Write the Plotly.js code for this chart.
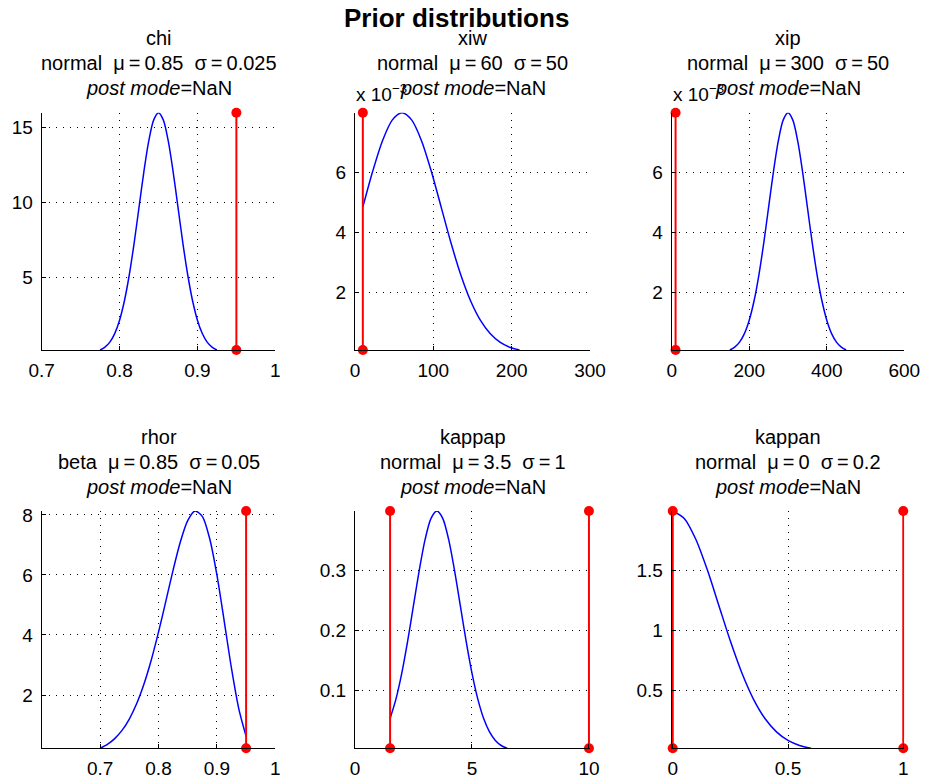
<!DOCTYPE html>
<html><head><meta charset="utf-8">
<script src="https://cdn.plot.ly/plotly-3.0.1.min.js"></script>
<style>html,body{margin:0;padding:0;background:#fff}</style>
</head><body><div id="chart" style="width:927px;height:784px"></div>
<script>
// ---- data ----
const paramNames  = ['chi', 'xiw', 'xip', 'rhor', 'kappap', 'kappan'];
const priorShapes = ['normal', 'normal', 'normal', 'beta', 'normal', 'normal'];
const priorMeans  = ['0.85', '60', '300', '0.85', '3.5', '0'];
const priorStds   = ['0.025', '50', '50', '0.05', '1', '0.2'];
const postModes   = ['NaN', 'NaN', 'NaN', 'NaN', 'NaN', 'NaN'];

const chiX = [0.775, 0.78125, 0.7875, 0.79375, 0.8, 0.80625, 0.8125, 0.81875, 0.825, 0.83125, 0.8375, 0.84375, 0.85,
              0.85625, 0.8625, 0.86875, 0.875, 0.88125, 0.8875, 0.89375, 0.9, 0.90625, 0.9125, 0.91875, 0.925];
const chiDensity = [0.177, 0.364, 0.701, 1.270, 2.160, 3.451, 5.181, 7.306, 9.679, 12.046, 14.083, 15.467, 15.958,
              15.467, 14.083, 12.046, 9.679, 7.306, 5.181, 3.451, 2.160, 1.270, 0.701, 0.364, 0.177];

const xiwX = [10, 22.5, 35, 47.5, 60, 72.5, 85, 97.5, 110, 122.5, 135, 147.5, 160, 172.5, 185, 197.5, 210];
const xiwDensity = [0.004839, 0.006023, 0.007041, 0.007733, 0.007979, 0.007733, 0.007041, 0.006023, 0.004839,
              0.003653, 0.002590, 0.001726, 0.001080, 0.000635, 0.000351, 0.000182, 0.0000886];

const xipX = [150, 162.5, 175, 187.5, 200, 212.5, 225, 237.5, 250, 262.5, 275, 287.5, 300,
              312.5, 325, 337.5, 350, 362.5, 375, 387.5, 400, 412.5, 425, 437.5, 450];
const xipDensity = [0.0000886, 0.000182, 0.000351, 0.000635, 0.001080, 0.001726, 0.002590, 0.003653, 0.004839,
              0.006023, 0.007041, 0.007733, 0.007979, 0.007733, 0.007041, 0.006023, 0.004839, 0.003653,
              0.002590, 0.001726, 0.001080, 0.000635, 0.000351, 0.000182, 0.0000886];

const rhorX = [0.7, 0.7125, 0.725, 0.7375, 0.75, 0.7625, 0.775, 0.7875, 0.8, 0.8125, 0.825, 0.8375, 0.85,
              0.8625, 0.875, 0.8875, 0.9, 0.9125, 0.925, 0.9375, 0.95];
const rhorDensity = [0.224, 0.354, 0.546, 0.820, 1.199, 1.706, 2.357, 3.158, 4.094, 5.121, 6.163, 7.106, 7.810,
              8.132, 7.952, 7.222, 6.002, 4.466, 2.884, 1.539, 0.625];

const kappapX = [1.5, 1.75, 2, 2.25, 2.5, 2.75, 3, 3.25, 3.5, 3.75, 4, 4.25, 4.5, 4.75, 5, 5.25, 5.5, 5.75, 6, 6.25, 6.5];
const kappapDensity = [0.05399, 0.08628, 0.12952, 0.18265, 0.24197, 0.30114, 0.35207, 0.38667, 0.39894, 0.38667,
              0.35207, 0.30114, 0.24197, 0.18265, 0.12952, 0.08628, 0.05399, 0.03174, 0.01753, 0.00909, 0.00443];

const kappanX = [0, 0.05, 0.1, 0.15, 0.2, 0.25, 0.3, 0.35, 0.4, 0.45, 0.5, 0.55, 0.6];
const kappanDensity = [1.9947, 1.9333, 1.7603, 1.5057, 1.2098, 0.9132, 0.6476, 0.4314, 0.2700, 0.1587, 0.0876, 0.0455, 0.0222];

const boundLines = [[0.95], [10], [10], [0.95], [1.5, 10], [0, 1]];

const xTickVals = [[0.7, 0.8, 0.9, 1], [0, 100, 200, 300], [0, 200, 400, 600], [0.7, 0.8, 0.9, 1], [0, 5, 10], [0, 0.5, 1]];
const xTickText = [['0.7', '0.8', '0.9', '1'], ['0', '100', '200', '300'], ['0', '200', '400', '600'],
                   ['0.7', '0.8', '0.9', '1'], ['0', '5', '10'], ['0', '0.5', '1']];
const yTickVals = [[5, 10, 15], [0.002, 0.004, 0.006], [0.002, 0.004, 0.006], [2, 4, 6, 8], [0.1, 0.2, 0.3], [0.5, 1, 1.5]];
const yTickText = [['5', '10', '15'], ['2', '4', '6'], ['2', '4', '6'], ['2', '4', '6', '8'], ['0.1', '0.2', '0.3'], ['0.5', '1', '1.5']];
const yExponents = ['', '\u22123', '\u22123', '', '', ''];
const xRanges = [[0.7, 1], [0, 300], [0, 600], [0.6, 1], [0, 10.045], [-0.0045, 1.0045]];

const curvesX = [chiX, xiwX, xipX, rhorX, kappapX, kappanX];
const curvesY = [chiDensity, xiwDensity, xipDensity, rhorDensity, kappapDensity, kappanDensity];

// ---- layout geometry (pixels) ----
const W = 927, H = 784;
const colLeft = [41.7, 355, 671.7], colRight = [275.3, 590, 904.3];
const rowTop = [112.7, 511], rowBottom = [350, 748.3];
const FONT = 'Liberation Sans, Arial, Helvetica, sans-serif';
const TICK_SIZE = 19, TITLE_SIZE = 20;

const traces = [];
const layout = {
  width: W, height: H, margin: {l: 0, r: 0, t: 0, b: 0},
  paper_bgcolor: '#fff', plot_bgcolor: '#fff', showlegend: false,
  font: {family: FONT, size: TICK_SIZE, color: '#000'},
  annotations: []
};

const nbsp = '\u00a0';
const eq = '\u2009=\u2009';
for (let i = 0; i < 6; i++) {
  const r = Math.floor(i / 3), c = i % 3;
  const sfx = i === 0 ? '' : String(i + 1);
  const xa = 'x' + sfx, ya = 'y' + sfx;
  const ys = curvesY[i];
  const yMin = Math.min(...ys), yMax = Math.max(...ys);

  traces.push({
    x: curvesX[i], y: ys, xaxis: xa, yaxis: ya, type: 'scatter', mode: 'lines',
    line: {color: '#0000ff', width: 1.5, shape: 'spline', smoothing: 0.8}, cliponaxis: false, hoverinfo: 'skip'
  });
  boundLines[i].forEach(b => {
    traces.push({
      x: [b, b], y: [yMin, yMax], xaxis: xa, yaxis: ya, type: 'scatter', mode: 'lines+markers',
      line: {color: '#ff0000', width: 2}, marker: {color: '#ff0000', size: 10}, cliponaxis: false, hoverinfo: 'skip'
    });
  });

  const common = {
    showline: true, linecolor: '#000', linewidth: 1, mirror: false, zeroline: false,
    ticks: 'inside', ticklen: 4, tickcolor: '#000', tickwidth: 1,
    showgrid: true, gridcolor: '#000', gridwidth: 1, griddash: '1px,6px',
    tickfont: {family: FONT, size: TICK_SIZE, color: '#000'}, tickmode: 'array', fixedrange: true
  };
  layout['xaxis' + sfx] = Object.assign({}, common, {
    domain: [colLeft[c] / W, colRight[c] / W], anchor: ya, range: xRanges[i],
    tickvals: xTickVals[i], ticktext: xTickText[i], ticklabelstandoff: 3
  });
  layout['yaxis' + sfx] = Object.assign({}, common, {
    domain: [1 - rowBottom[r] / H, 1 - rowTop[r] / H], anchor: xa, range: [yMin, yMax],
    tickvals: yTickVals[i], ticktext: yTickText[i], ticklabelstandoff: 4
  });

  const cx = (colLeft[c] + colRight[c]) / 2 / W;
  const base = r === 0 ? 0 : 399;
  const lines = [
    paramNames[i],
    priorShapes[i] + nbsp + nbsp + '\u03bc' + eq + priorMeans[i] + nbsp + nbsp + '\u03c3' + eq + priorStds[i],
    '<i>post mode</i>=' + postModes[i]
  ];
  const centers = [38, 63, 88];
  lines.forEach((t, k) => {
    layout.annotations.push({
      xref: 'paper', yref: 'paper', x: cx, y: 1 - (base + centers[k]) / H,
      xanchor: 'center', yanchor: 'middle', showarrow: false, text: t,
      font: {family: FONT, size: TITLE_SIZE, color: '#000'}
    });
  });
  if (yExponents[i]) {
    layout.annotations.push({
      xref: 'paper', yref: 'paper', x: (colLeft[c] - 1) / W, y: 1 - (base + 93) / H,
      xanchor: 'left', yanchor: 'middle', showarrow: false,
      text: 'x 10<sup>' + yExponents[i] + '</sup>', font: {family: FONT, size: TICK_SIZE, color: '#000'}
    });
  }
}

layout.annotations.push({
  xref: 'paper', yref: 'paper', x: 456 / W, y: 1 - 18 / H, xanchor: 'center', yanchor: 'middle',
  showarrow: false, text: '<b>Prior distributions</b>', font: {family: FONT, size: 26, color: '#000'}
});

Plotly.newPlot('chart', traces, layout, {staticPlot: true, displayModeBar: false});
</script>
</body></html>
